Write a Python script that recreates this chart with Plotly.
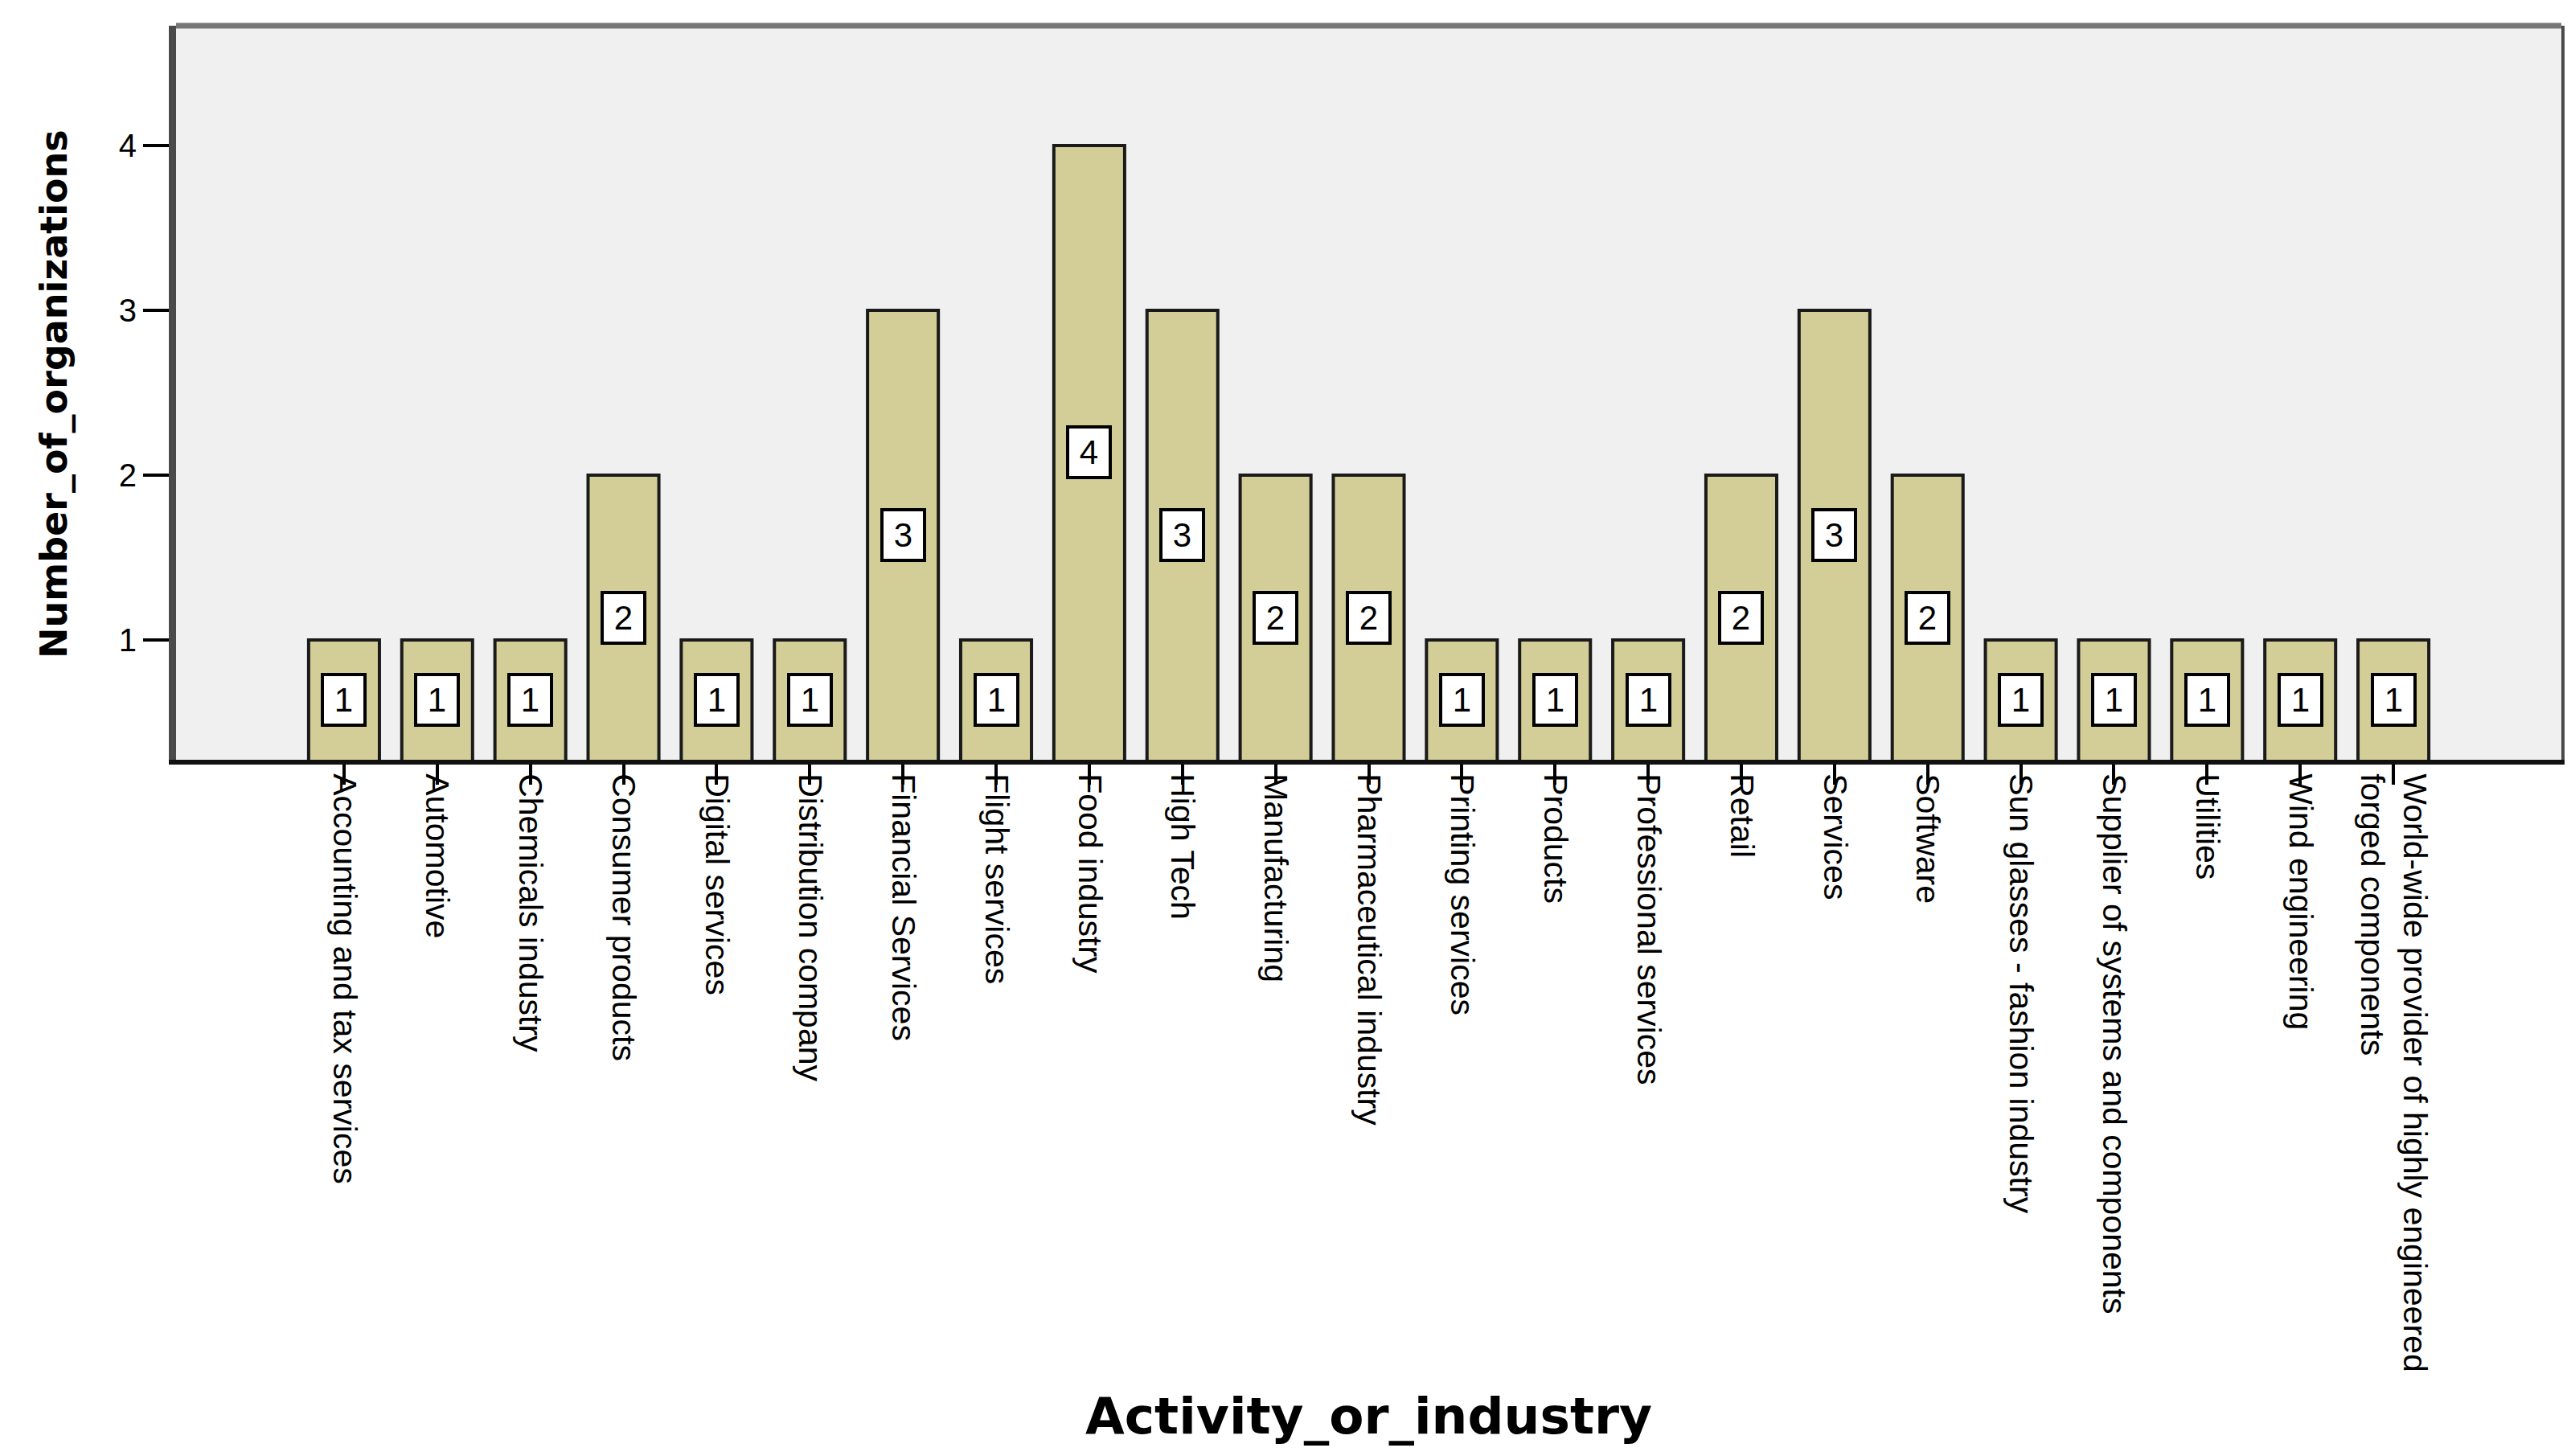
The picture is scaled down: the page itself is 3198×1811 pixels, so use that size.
import plotly.graph_objects as go

categories = [
    "Accounting and tax services", "Automotive", "Chemicals industry", "Consumer products",
    "Digital services", "Distribution company", "Financial Services", "Flight services",
    "Food industry", "High Tech", "Manufacturing", "Pharmaceutical industry",
    "Printing services", "Products", "Professional services", "Retail", "Services",
    "Software", "Sun glasses - fashion industry", "Supplier of systems and components",
    "Utilities", "Wind engineering",
    "World-wide provider of highly engineered forged components",
]
tick_labels = categories[:-1] + ["World-wide provider of highly engineered<br>forged components"]
counts = [1, 1, 1, 2, 1, 1, 3, 1, 4, 3, 2, 2, 1, 1, 1, 2, 3, 2, 1, 1, 1, 1, 1]
y_tick_vals = [1, 2, 3, 4]

Y_MIN, Y_MAX = 0.274, 4.726
X_PAD = 1.803

W, H = 3198, 1811
ML, MR, MT, MB = 211, 20, 24, 874

fig = go.Figure()
fig.add_trace(go.Bar(
    x=categories, y=counts, width=0.76,
    marker=dict(color="#D3CE98", line=dict(color="#1a1a1a", width=4)),
    hovertemplate="%{x}: %{y}<extra></extra>",
))

annotations = []
for c, v in zip(categories, counts):
    annotations.append(dict(
        x=c, y=(Y_MIN + v) / 2, xref="x", yref="y", text=str(v), showarrow=False,
        font=dict(family="Liberation Sans, Arial, sans-serif", size=42, color="black"),
        bgcolor="white", bordercolor="black", borderwidth=4, borderpad=2,
        width=45, height=55, align="center", valign="middle",
    ))

plot_w = W - ML - MR
plot_h = H - MT - MB
annotations.append(dict(
    text="Number_of_organizations", xref="paper", yref="paper",
    x=(59 - ML) / plot_w, y=(MT + plot_h - 482) / plot_h,
    xanchor="center", yanchor="middle", textangle=-90, showarrow=False,
    font=dict(family="DejaVu Sans, sans-serif", size=46, color="black", weight="bold"),
))
annotations.append(dict(
    text="Activity_or_industry", xref="paper", yref="paper",
    x=(1695 - ML) / plot_w, y=(MT + plot_h - 1754) / plot_h,
    xanchor="center", yanchor="middle", showarrow=False,
    font=dict(family="DejaVu Sans, sans-serif", size=63, color="black", weight="bold"),
))

fig.update_layout(
    width=W, height=H,
    margin=dict(l=ML, r=MR, t=MT, b=MB, autoexpand=False),
    paper_bgcolor="white", plot_bgcolor="#F0F0F0",
    showlegend=False,
    annotations=annotations,
    shapes=[dict(type="line", xref="paper", yref="paper", x0=0, x1=1, y0=1, y1=1,
                 line=dict(color="#777777", width=7), layer="above")],
    xaxis=dict(
        type="category", range=[-X_PAD, len(categories) - 1 + X_PAD],
        tickmode="array", tickvals=categories, ticktext=tick_labels,
        tickangle=90, ticks="outside", ticklen=25, tickwidth=4, tickcolor="black",
        ticklabelstandoff=-22,
        tickfont=dict(family="Liberation Sans, Arial, sans-serif", size=41, color="black"),
        showline=True, linecolor="#111111", linewidth=6, mirror=False,
        showgrid=False, zeroline=False, automargin=False, fixedrange=True,
    ),
    yaxis=dict(
        range=[Y_MIN, Y_MAX], tickmode="array", tickvals=y_tick_vals,
        ticks="outside", ticklen=32, tickwidth=4, tickcolor="black",
        tickfont=dict(family="Liberation Sans, Arial, sans-serif", size=40, color="black"),
        showline=True, linecolor="#4a4a4a", linewidth=9, mirror=True,
        showgrid=False, zeroline=False, automargin=False, fixedrange=True,
    ),
)

fig.write_html("out.html")
